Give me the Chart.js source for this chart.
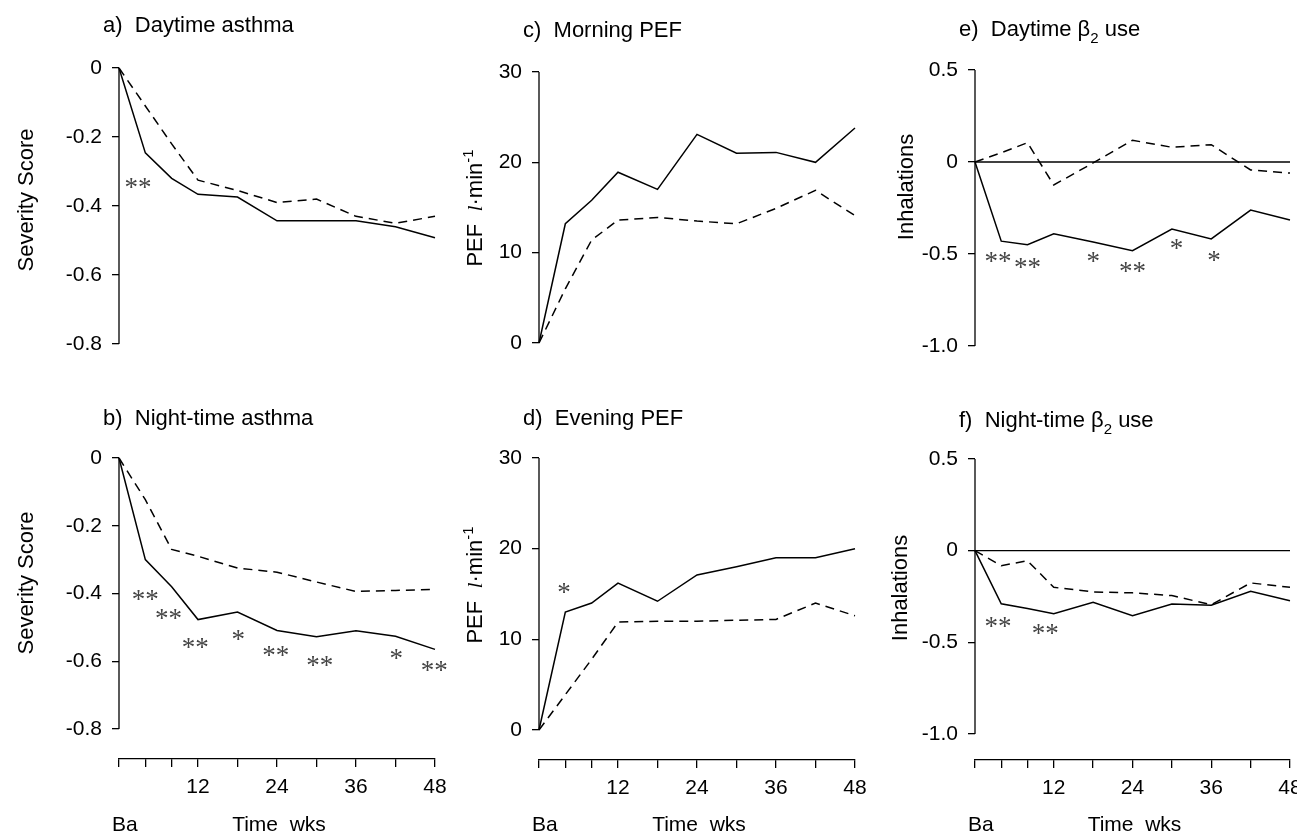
<!DOCTYPE html>
<html>
<head>
<meta charset="utf-8">
<script src="https://cdn.jsdelivr.net/npm/chart.js@4.4.0/dist/chart.umd.min.js"></script>
<style>
  body { margin: 0; background: #fff; }
  #wrap { position: relative; width: 1297px; height: 834px; overflow: hidden; }
  canvas { position: absolute; }
</style>
</head>
<body>
<div id="wrap"></div>
<script>
'use strict';

// time axis (Ba = baseline = week 0)
const weeks = [0, 4, 8, 12, 18, 24, 30, 36, 42, 48];
const weekTicks = [0, 4, 8, 12, 18, 24, 30, 36, 42, 48];
const weekTickLabels = ['', '', '', '12', '', '24', '', '36', '', '48'];

const severityTicks = [0, -0.2, -0.4, -0.6, -0.8];
const severityTickLabels = ['0', '-0.2', '-0.4', '-0.6', '-0.8'];
const pefTicks = [30, 20, 10, 0];
const pefTickLabels = ['30', '20', '10', '0'];
const inhalTicks = [0.5, 0, -0.5, -1.0];
const inhalTickLabels = ['0.5', '0', '-0.5', '-1.0'];

// a) Daytime asthma
const dayAsthmaSolid = [0, -0.246, -0.32, -0.366, -0.374, -0.443, -0.443, -0.443, -0.46, -0.492];
const dayAsthmaDashed = [0, -0.11, -0.22, -0.325, -0.355, -0.39, -0.38, -0.43, -0.45, -0.43];
const dayAsthmaStarWeeks = [2.9];
const dayAsthmaStarValues = [-0.333];
const dayAsthmaStars = ['**'];

// b) Night-time asthma
const nightAsthmaSolid = [0, -0.30, -0.38, -0.477, -0.455, -0.509, -0.528, -0.51, -0.526, -0.565];
const nightAsthmaDashed = [0, -0.123, -0.27, -0.29, -0.325, -0.337, -0.366, -0.394, -0.391, -0.388];
const nightAsthmaStarWeeks = [4.0, 7.5, 11.6, 18.1, 23.8, 30.5, 42.1, 47.9];
const nightAsthmaStarValues = [-0.404, -0.46, -0.546, -0.522, -0.569, -0.599, -0.578, -0.614];
const nightAsthmaStars = ['**', '**', '**', '*', '**', '**', '*', '**'];

// c) Morning PEF
const morningPefSolid = [0, 13.2, 15.8, 18.9, 17.0, 23.1, 21.0, 21.1, 20.0, 23.8];
const morningPefDashed = [0, 6.0, 11.4, 13.6, 13.9, 13.5, 13.2, 14.9, 16.9, 14.1];

// d) Evening PEF
const eveningPefSolid = [0, 13.0, 14.0, 16.2, 14.2, 17.1, 18.0, 19.0, 19.0, 20.0];
const eveningPefDashed = [0, 3.9, 7.8, 11.9, 12.0, 12.0, 12.1, 12.2, 14.0, 12.6];
const eveningPefStarWeeks = [3.8];
const eveningPefStarValues = [15.7];
const eveningPefStars = ['*'];

// e) Daytime beta2 use
const dayBetaSolid = [0, -0.43, -0.45, -0.39, -0.435, -0.482, -0.364, -0.418, -0.261, -0.315];
const dayBetaDashed = [0, 0.05, 0.105, -0.125, -0.005, 0.118, 0.08, 0.094, -0.043, -0.06];
const dayBetaStarWeeks = [3.5, 8.0, 18.0, 24.0, 30.7, 36.4];
const dayBetaStarValues = [-0.516, -0.549, -0.516, -0.57, -0.446, -0.51];
const dayBetaStars = ['**', '**', '*', '**', '*', '*'];

// f) Night-time beta2 use
const nightBetaSolid = [0, -0.29, -0.316, -0.344, -0.282, -0.355, -0.291, -0.298, -0.222, -0.273];
const nightBetaDashed = [0, -0.082, -0.055, -0.2, -0.225, -0.23, -0.245, -0.295, -0.176, -0.2];
const nightBetaStarWeeks = [3.5, 10.7];
const nightBetaStarValues = [-0.388, -0.426];
const nightBetaStars = ['**', '**'];

const SANS = '"Liberation Sans", Arial, Helvetica, sans-serif';
const SERIF = '"Liberation Serif", "Times New Roman", serif';

const severityTitle = [{ t: 'Severity Score' }];
const pefTitle = [{ t: 'PEF  ' }, { t: 'l', italic: true, serif: true }, { t: '\u00b7min' }, { t: '-1', sup: true }];
const inhalTitle = [{ t: 'Inhalations' }];

// page layout of each panel (absolute px); bottom row canvases start higher so the titles fit
const panels = [
  {
    title: [{ t: 'a)  Daytime asthma' }], titleX: 103, titleY: 32,
    yTitle: severityTitle, yTitleX: 33, yTitleY: 200,
    left: 0, top: 0, w: 470, h: 417,
    plotLeft: 119, plotRight: 435, plotTop: 68, plotBottom: 344,
    yTicks: severityTicks, yLabels: severityTickLabels,
    solid: dayAsthmaSolid, dashed: dayAsthmaDashed,
    starWeeks: dayAsthmaStarWeeks, starValues: dayAsthmaStarValues, stars: dayAsthmaStars
  },
  {
    title: [{ t: 'b)  Night-time asthma' }], titleX: 103, titleY: 425,
    yTitle: severityTitle, yTitleX: 33, yTitleY: 583,
    left: 0, top: 390, w: 470, h: 444,
    plotLeft: 119, plotRight: 435, plotTop: 458, plotBottom: 729, axisY: 759,
    yTicks: severityTicks, yLabels: severityTickLabels,
    solid: nightAsthmaSolid, dashed: nightAsthmaDashed,
    starWeeks: nightAsthmaStarWeeks, starValues: nightAsthmaStarValues, stars: nightAsthmaStars
  },
  {
    title: [{ t: 'c)  Morning PEF' }], titleX: 523, titleY: 37,
    yTitle: pefTitle, yTitleX: 482, yTitleY: 208,
    left: 440, top: 0, w: 440, h: 417,
    plotLeft: 539, plotRight: 855, plotTop: 72, plotBottom: 343,
    yTicks: pefTicks, yLabels: pefTickLabels,
    solid: morningPefSolid, dashed: morningPefDashed,
    starWeeks: [], starValues: [], stars: []
  },
  {
    title: [{ t: 'd)  Evening PEF' }], titleX: 523, titleY: 425,
    yTitle: pefTitle, yTitleX: 482, yTitleY: 585,
    left: 440, top: 390, w: 440, h: 444,
    plotLeft: 539, plotRight: 855, plotTop: 458, plotBottom: 730, axisY: 760,
    yTicks: pefTicks, yLabels: pefTickLabels,
    solid: eveningPefSolid, dashed: eveningPefDashed,
    starWeeks: eveningPefStarWeeks, starValues: eveningPefStarValues, stars: eveningPefStars
  },
  {
    title: [{ t: 'e)  Daytime \u03b2' }, { t: '2', sub: true }, { t: ' use' }], titleX: 959, titleY: 36,
    yTitle: inhalTitle, yTitleX: 913, yTitleY: 187,
    left: 870, top: 0, w: 427, h: 417,
    plotLeft: 975, plotRight: 1290, plotTop: 70, plotBottom: 346,
    yTicks: inhalTicks, yLabels: inhalTickLabels, zeroLine: true,
    solid: dayBetaSolid, dashed: dayBetaDashed,
    starWeeks: dayBetaStarWeeks, starValues: dayBetaStarValues, stars: dayBetaStars
  },
  {
    title: [{ t: 'f)  Night-time \u03b2' }, { t: '2', sub: true }, { t: ' use' }], titleX: 959, titleY: 427,
    yTitle: inhalTitle, yTitleX: 907, yTitleY: 588,
    left: 870, top: 390, w: 427, h: 444,
    plotLeft: 975, plotRight: 1290, plotTop: 459, plotBottom: 734, axisY: 760,
    yTicks: inhalTicks, yLabels: inhalTickLabels, zeroLine: true,
    solid: nightBetaSolid, dashed: nightBetaDashed,
    starWeeks: nightBetaStarWeeks, starValues: nightBetaStarValues, stars: nightBetaStars
  }
];

function segFont(s, size) {
  const fs = (s.sub || s.sup) ? Math.round(size * 0.68) : size;
  return (s.italic ? 'italic ' : '') + fs + 'px ' + (s.serif ? SERIF : SANS);
}

function richWidth(ctx, segs, size) {
  let w = 0;
  segs.forEach(s => {
    ctx.font = segFont(s, size);
    w += ctx.measureText(s.t).width;
  });
  return w;
}

function drawRich(ctx, segs, x, y, size) {
  let cx = x;
  segs.forEach(s => {
    ctx.font = segFont(s, size);
    const dy = s.sub ? size * 0.3 : (s.sup ? -size * 0.42 : 0);
    ctx.fillText(s.t, cx, y + dy);
    cx += ctx.measureText(s.t).width;
  });
}

function decorPlugin(p) {
  return {
    id: 'decor',
    afterDraw(chart) {
      const ctx = chart.ctx;
      const xs = chart.scales.x;
      const ys = chart.scales.y;
      ctx.save();
      ctx.fillStyle = '#000';
      ctx.strokeStyle = '#000';
      ctx.lineWidth = 1.3;
      // R-style y axis line, only between first and last tick
      const ax = chart.chartArea.left;
      ctx.beginPath();
      ctx.moveTo(ax, ys.getPixelForValue(p.yTicks[0]));
      ctx.lineTo(ax, ys.getPixelForValue(p.yTicks[p.yTicks.length - 1]));
      ctx.stroke();

      ctx.textAlign = 'left';
      ctx.textBaseline = 'alphabetic';
      drawRich(ctx, p.title, p.titleX - p.left, p.titleY - p.top, 22);

      // rotated y title
      ctx.save();
      ctx.translate(p.yTitleX - p.left, p.yTitleY - p.top);
      ctx.rotate(-Math.PI / 2);
      const tw = richWidth(ctx, p.yTitle, 22);
      drawRich(ctx, p.yTitle, -tw / 2, 0, 22);
      ctx.restore();

      if (p.axisY) {
        ctx.font = '21px ' + SANS;
        ctx.fillText('Ba', xs.getPixelForValue(weekTicks[0]) - 7, 831 - p.top);
        ctx.textAlign = 'center';
        ctx.fillText('Time  wks', (xs.left + xs.right) / 2 + 2, 831 - p.top);
      }

      // significance marks
      ctx.fillStyle = '#444';
      ctx.textAlign = 'center';
      ctx.font = '27px ' + SERIF;
      p.stars.forEach((s, i) => {
        const px = xs.getPixelForValue(p.starWeeks[i]);
        const py = ys.getPixelForValue(p.starValues[i]);
        ctx.fillText(s, px, py + 13);
      });
      ctx.restore();
    }
  };
}

function makePanel(p) {
  const canvas = document.createElement('canvas');
  canvas.width = p.w;
  canvas.height = p.h;
  canvas.style.left = p.left + 'px';
  canvas.style.top = p.top + 'px';
  document.getElementById('wrap').appendChild(canvas);

  const yMax = p.yTicks[0];
  const yMin = p.yTicks[p.yTicks.length - 1];
  const bottomRow = !!p.axisY;
  // bottom row: x axis sits a little below the lowest y tick
  const yMinExt = bottomRow ? yMin - (yMax - yMin) * (p.axisY - p.plotBottom) / (p.plotBottom - p.plotTop) : yMin;
  const plotBottomPx = bottomRow ? p.axisY : p.plotBottom;

  const datasets = [{
    data: weeks.map((w, i) => ({ x: w, y: p.solid[i] })),
    borderColor: '#000', borderWidth: 1.5, pointRadius: 0, tension: 0, clip: false
  }, {
    data: weeks.map((w, i) => ({ x: w, y: p.dashed[i] })),
    borderColor: '#000', borderWidth: 1.5, borderDash: [9, 6], pointRadius: 0, tension: 0, clip: false
  }];
  if (p.zeroLine) {
    datasets.push({
      data: [weeks[0], weeks[weeks.length - 1]].map(w => ({ x: w, y: 0 })),
      borderColor: '#000', borderWidth: 1.3, pointRadius: 0, clip: false
    });
  }

  const noPad = s => { s.paddingLeft = 0; s.paddingRight = 0; s.paddingTop = 0; s.paddingBottom = 0; };

  return new Chart(canvas, {
    type: 'line',
    data: { datasets: datasets },
    options: {
      responsive: false,
      animation: false,
      events: [],
      layout: {
        padding: {
          left: 0,
          right: p.w - (p.plotRight - p.left),
          top: p.plotTop - p.top,
          bottom: 0
        }
      },
      plugins: { legend: { display: false }, tooltip: { enabled: false } },
      scales: {
        x: {
          type: 'linear',
          min: weekTicks[0],
          max: weekTicks[weekTicks.length - 1],
          display: bottomRow,
          afterBuildTicks: s => { s.ticks = weekTicks.map(v => ({ value: v })); },
          afterFit: s => { s.height = p.h - (plotBottomPx - p.top); noPad(s); },
          grid: { drawOnChartArea: false, drawTicks: true, tickLength: 8, color: '#000', lineWidth: 1.3 },
          border: { display: true, color: '#000', width: 1.3 },
          ticks: {
            autoSkip: false, maxRotation: 0, padding: 8, color: '#000',
            font: { family: SANS, size: 21 },
            callback: (v, i) => weekTickLabels[i]
          }
        },
        y: {
          type: 'linear',
          min: yMinExt,
          max: yMax,
          afterBuildTicks: s => { s.ticks = p.yTicks.map(v => ({ value: v })); },
          afterFit: s => { s.width = p.plotLeft - p.left; noPad(s); },
          grid: { drawOnChartArea: false, drawTicks: true, tickLength: 7, color: '#000', lineWidth: 1.3 },
          border: { display: false },
          ticks: {
            padding: 10, color: '#000',
            font: { family: SANS, size: 21 },
            callback: (v, i) => p.yLabels[i]
          }
        }
      }
    },
    plugins: [decorPlugin(p)]
  });
}

panels.forEach(makePanel);
</script>
</body>
</html>
